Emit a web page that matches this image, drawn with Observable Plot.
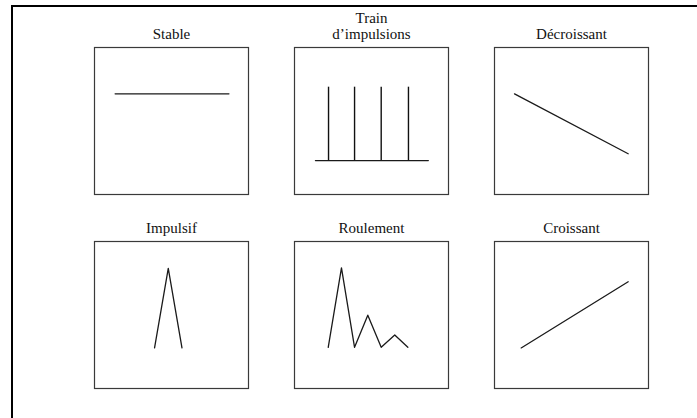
<!DOCTYPE html>
<html>
<head>
<meta charset="utf-8">
<script src="https://cdn.jsdelivr.net/npm/d3@7"></script>
<script src="https://cdn.jsdelivr.net/npm/@observablehq/plot@0.6"></script>
<style>
  html, body { margin: 0; padding: 0; background: #fff; }
  #wrap { position: relative; width: 697px; height: 418px; overflow: hidden; }
  #border { position: absolute; left: 11px; top: 5px; width: 800px; height: 600px;
            border-top: 2px solid #000; border-left: 2px solid #000; pointer-events: none; }
</style>
</head>
<body>
<div id="wrap"><div id="border"></div></div>
<script>
// Panel titles (row-major, 3 columns x 2 rows)
const titles = ["Stable", "Train\nd\u2019impulsions", "Décroissant", "Impulsif", "Roulement", "Croissant"];

// Series values in each panel's own 0–10 coordinate space
const stableX = [1.34, 8.73];
const stableY = [6.85, 6.85];
const trainBaseX = [1.36, 8.69];
const trainBaseY = [2.31, 2.31];
const trainPulseX = [2.21, 3.90, 5.63, 7.40];
const trainPulseTop = 7.30;
const decroissantX = [1.30, 8.68];
const decroissantY = [6.85, 2.77];
const impulsifX = [3.90, 4.79, 5.68];
const impulsifY = [2.76, 8.17, 2.76];
const roulementX = [2.19, 3.05, 3.90, 4.76, 5.63, 6.51, 7.36];
const roulementY = [2.80, 8.21, 2.80, 4.99, 2.80, 3.64, 2.80];
const croissantX = [1.73, 8.68];
const croissantY = [2.76, 7.26];

const col = i => i % 3;
const row = i => Math.floor(i / 3);

const seriesList = [
  {panel: 0, id: "stable", xs: stableX, ys: stableY},
  {panel: 1, id: "trainBase", xs: trainBaseX, ys: trainBaseY},
  {panel: 2, id: "decroissant", xs: decroissantX, ys: decroissantY},
  {panel: 3, id: "impulsif", xs: impulsifX, ys: impulsifY},
  {panel: 4, id: "roulement", xs: roulementX, ys: roulementY},
  {panel: 5, id: "croissant", xs: croissantX, ys: croissantY}
];
const lines = seriesList.flatMap(s => s.xs.map((x, k) => ({id: s.id, fx: col(s.panel), fy: row(s.panel), x, y: s.ys[k]})));
const pulses = trainPulseX.map(x => ({fx: col(1), fy: row(1), x, y1: trainBaseY[0], y2: trainPulseTop}));
const titleRows = titles.map((t, i) => ({fx: col(i), fy: row(i), text: t}));

const chart = Plot.plot({
  width: 697,
  height: 418,
  marginLeft: 93.3,
  marginRight: 48.7,
  marginTop: 46.7,
  marginBottom: 30,
  style: {background: "transparent"},
  fx: {axis: null, paddingInner: 46.5 / 200.5, paddingOuter: 0, domain: [0, 1, 2]},
  fy: {axis: null, paddingInner: 47 / 194, paddingOuter: 0, domain: [0, 1]},
  x: {axis: null, domain: [0, 10]},
  y: {axis: null, domain: [0, 10]},
  marks: [
    Plot.frame({stroke: "#3a3a3a", strokeWidth: 1.2}),
    Plot.line(lines, {x: "x", y: "y", z: "id", fx: "fx", fy: "fy", stroke: "#1a1a1a", strokeWidth: 1.3}),
    Plot.ruleX(pulses, {x: "x", y1: "y1", y2: "y2", fx: "fx", fy: "fy", stroke: "#111", strokeWidth: 1.4}),
    Plot.text(titleRows, {fx: "fx", fy: "fy", text: "text", frameAnchor: "top", lineAnchor: "bottom",
      dy: -8.5, lineHeight: 1.07, fontSize: 15, fontFamily: "Liberation Serif, Times New Roman, serif", fill: "#111"})
  ]
});
document.getElementById("wrap").insertBefore(chart, document.getElementById("border"));
</script>
</body>
</html>
